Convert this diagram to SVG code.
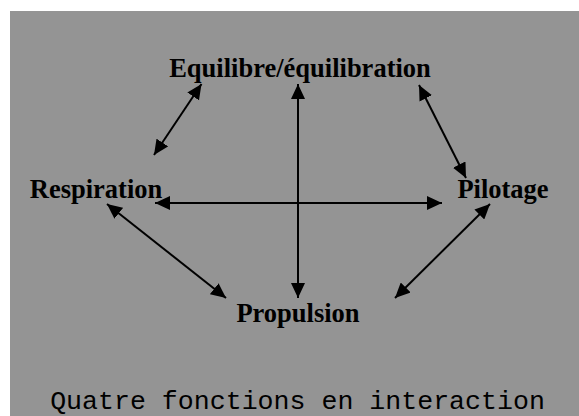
<svg xmlns="http://www.w3.org/2000/svg" width="579" height="416" viewBox="0 0 579 416">
  <style>
    .node { font-family: "Liberation Serif", "Times New Roman", serif; font-weight: bold; font-size: 26.5px; fill: #000; text-anchor: middle; }
    .caption { font-family: "Liberation Mono", "Courier New", monospace; font-size: 26.6px; fill: #000; text-anchor: middle; }
    .conn { stroke: #000; stroke-width: 2; fill: none; marker-start: url(#ah); marker-end: url(#ah); }
  </style>
  <defs>
    <marker id="ah" viewBox="0 0 15 14" markerWidth="15" markerHeight="14" refX="15" refY="7" orient="auto-start-reverse" markerUnits="userSpaceOnUse">
      <path d="M0,0 L15,7 L0,14 z" fill="#000"/>
    </marker>
  </defs>
  <rect x="10" y="11" width="569" height="405" fill="#949494"/>
  <g id="connectors">
    <line class="conn" x1="201.5" y1="84" x2="154" y2="155"/>
    <line class="conn" x1="298" y1="84" x2="298" y2="298"/>
    <line class="conn" x1="419" y1="85" x2="466" y2="178"/>
    <line class="conn" x1="155" y1="203" x2="442" y2="203"/>
    <line class="conn" x1="107" y1="204" x2="226" y2="298"/>
    <line class="conn" x1="490" y1="204" x2="395" y2="298"/>
  </g>
  <g id="equilibre"><text class="node" x="300" y="77">Equilibre/équilibration</text></g>
  <g id="respiration"><text class="node" x="96" y="198">Respiration</text></g>
  <g id="pilotage"><text class="node" x="503" y="198">Pilotage</text></g>
  <g id="propulsion"><text class="node" x="298" y="322">Propulsion</text></g>
  <g id="caption"><text class="caption" x="297.5" y="409">Quatre fonctions en interaction</text></g>
</svg>
